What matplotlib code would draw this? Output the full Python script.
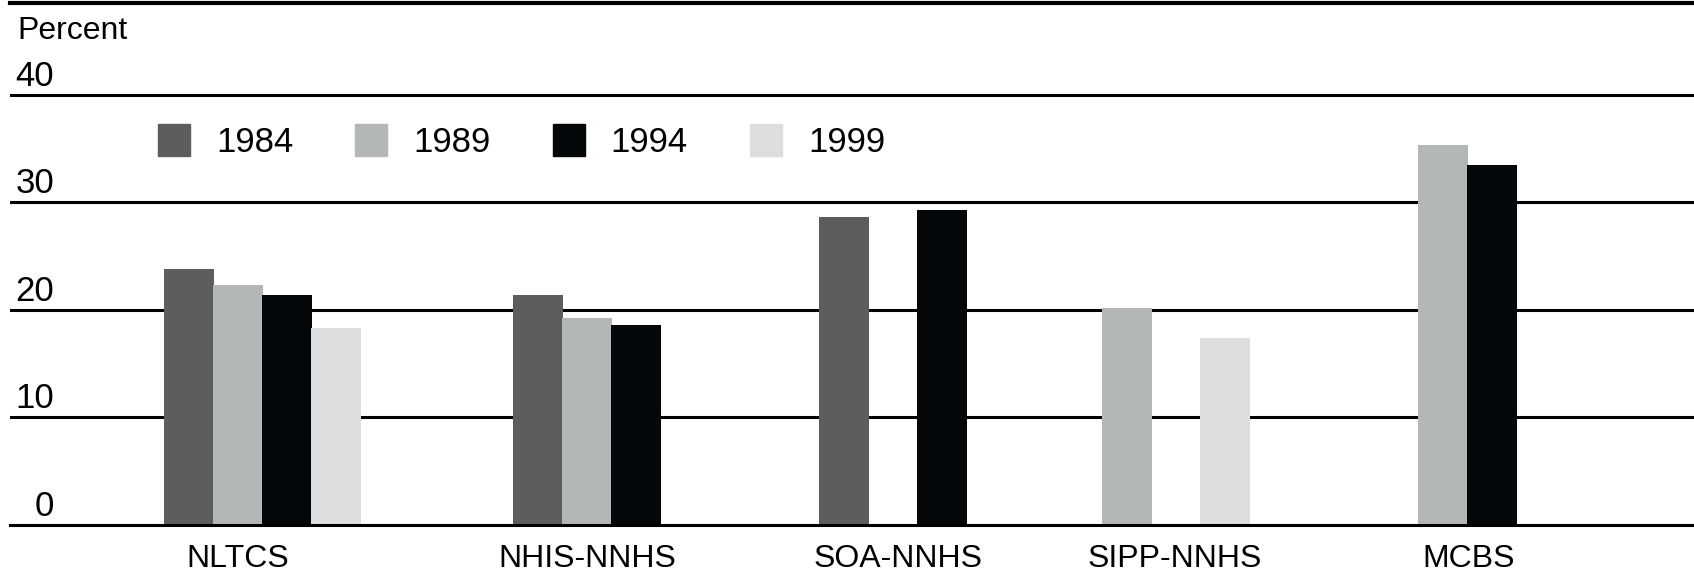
import numpy as np
import matplotlib
matplotlib.use("Agg")
import matplotlib.pyplot as plt
from matplotlib.transforms import ScaledTranslation

plt.rcParams['font.family'] = ['Liberation Sans', 'DejaVu Sans']

# data (percent); nan = no bar for that survey/year
surveys = ["NLTCS", "NHIS-NNHS", "SOA-NNHS", "SIPP-NNHS", "MCBS"]
years = ["1984", "1989", "1994", "1999"]
v1984 = [23.8, 21.4, 28.6, np.nan, np.nan]
v1989 = [22.3, 19.2, np.nan, 20.2, 35.3]
v1994 = [21.4, 18.6, 29.3, np.nan, 33.5]
v1999 = [18.3, np.nan, np.nan, 17.4, np.nan]
yticks = [0, 10, 20, 30, 40]

colors = ["#5c5d5f", "#b4b7b8", "#03070a", "#dcdddf"]

# layout (figure pixels): group centres and label centres are not evenly spaced
W, H = 1694, 584
group_x = [262, 587, 893, 1176, 1467]
label_x = [238, 587, 898, 1175, 1469]
step = 49
bar_w = 50

fig = plt.figure(figsize=(W / 100, H / 100), dpi=100)
left_px, bottom_px, top_px = 10, 525, 3
ax = fig.add_axes([left_px / W, (H - bottom_px) / H, 1 - left_px / W, (bottom_px - top_px) / H])
px_per_unit = 107.6 / 10
ax.set_xlim(left_px, W)
ax.set_ylim(0, (bottom_px - top_px) / px_per_unit)

series = np.array([v1984, v1989, v1994, v1999])
for g in range(len(surveys)):
    present = [k for k in range(len(years)) if not np.isnan(series[k, g])]
    mid = np.mean(present)
    for k in present:
        ax.bar(group_x[g] + (k - mid) * step, series[k, g], width=bar_w,
               color=colors[k], zorder=2, linewidth=0)

# legend handles
handles = [plt.Rectangle((0, 0), 1, 1, color=c) for c in colors]
ax.legend(handles, years, loc="upper left", ncol=4, frameon=False,
          bbox_to_anchor=(158 / W, 1 - 124 / H), bbox_transform=fig.transFigure,
          fontsize=25, handlelength=0.92, handleheight=1.04, handletextpad=0.75,
          columnspacing=1.79, borderpad=0, borderaxespad=0)

for y in yticks[1:]:
    ax.axhline(y, color="black", lw=2.2, zorder=0)

for s in ["left", "right"]:
    ax.spines[s].set_visible(False)
ax.spines["bottom"].set_linewidth(2.2)
ax.spines["top"].set_linewidth(3)

ax.set_yticks(yticks)
ax.set_yticklabels([str(t) for t in yticks], fontsize=25)
ax.tick_params(axis="y", length=0, pad=0)
off = ScaledTranslation(44 / 100, 22 / 100, fig.dpi_scale_trans)
for lab in ax.get_yticklabels():
    lab.set_transform(lab.get_transform() + off)

ax.set_xticks(label_x)
ax.set_xticklabels(surveys, fontsize=23)
ax.tick_params(axis="x", length=0, pad=14)

fig.text(17 / W, 1 - 31 / H, "Percent", fontsize=23, va="center", ha="left")

fig.savefig("out.png", dpi=100)
